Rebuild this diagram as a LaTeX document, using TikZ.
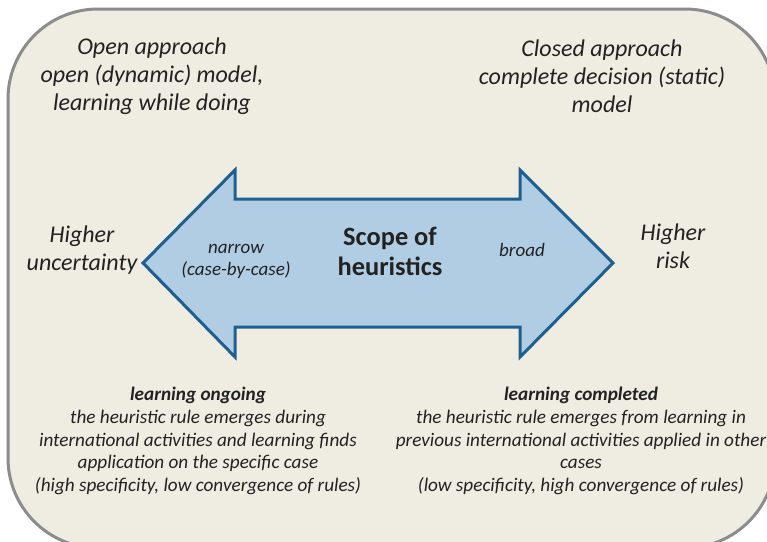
\documentclass[tikz,border=0pt]{standalone}
\usepackage{fontspec}
\setmainfont{Carlito}
\definecolor{bgbeige}{HTML}{EFECE2}
\definecolor{bordergray}{HTML}{8C8C8E}
\definecolor{arrowfill}{HTML}{B0CDE4}
\definecolor{arrowline}{HTML}{1F5F8F}
\definecolor{txt}{HTML}{222222}
\tikzset{
  big/.style={align=center, text=txt, font=\itshape\fontsize{24}{28}\selectfont, inner sep=0pt},
  small/.style={align=center, text=txt, font=\itshape\fontsize{19.2}{22.8}\selectfont, inner sep=0pt},
  inarrow/.style={align=center, text=txt, font=\itshape\fontsize{19}{22}\selectfont, inner sep=0pt},
  title/.style={align=center, text=txt, font=\bfseries\fontsize{26.4}{30}\selectfont, inner sep=0pt},
}
\begin{document}
\begin{tikzpicture}[x=1pt,y=-1pt]
\useasboundingbox (0,0) rectangle (767,541);
\begin{scope}
\clip (0,0) rectangle (767,541);
\draw[bordergray, line width=3pt, fill=bgbeige, rounded corners=90pt] (8,9) rectangle (775,548);
\end{scope}
% double arrow
\draw[arrowline, line width=3pt, fill=arrowfill, line join=miter]
  (143,263) -- (235,170) -- (235,199) -- (520,199) -- (520,170) -- (613,263)
  -- (520,357) -- (520,327) -- (235,327) -- (235,357) -- cycle;
\node[title] (scope) at (390,251) {Scope of\\heuristics};
\node[inarrow] (narrow) at (236,261) {narrow\\(case-by-case)};
\node[inarrow] (broad) at (522,250) {broad};
\node[big] (open) at (152,76) {Open approach\\open (dynamic) model,\\learning while doing};
\node[big] (closed) at (602,76) {Closed approach\\complete decision (static)\\model};
\node[big] (unc) at (82,250) {Higher\\uncertainty};
\node[big] (risk) at (673,246) {Higher\\risk};
\node[small] (ongoing) at (198,441) {\textbf{learning ongoing}\\the heuristic rule emerges during\\international activities and learning finds\\application on the specific case\\(high specificity, low convergence of rules)};
\node[small] (completed) at (581,441) {\textbf{learning completed}\\the heuristic rule emerges from learning in\\previous international activities applied in other\\cases\\(low specificity, high convergence of rules)};
\end{tikzpicture}
\end{document}
